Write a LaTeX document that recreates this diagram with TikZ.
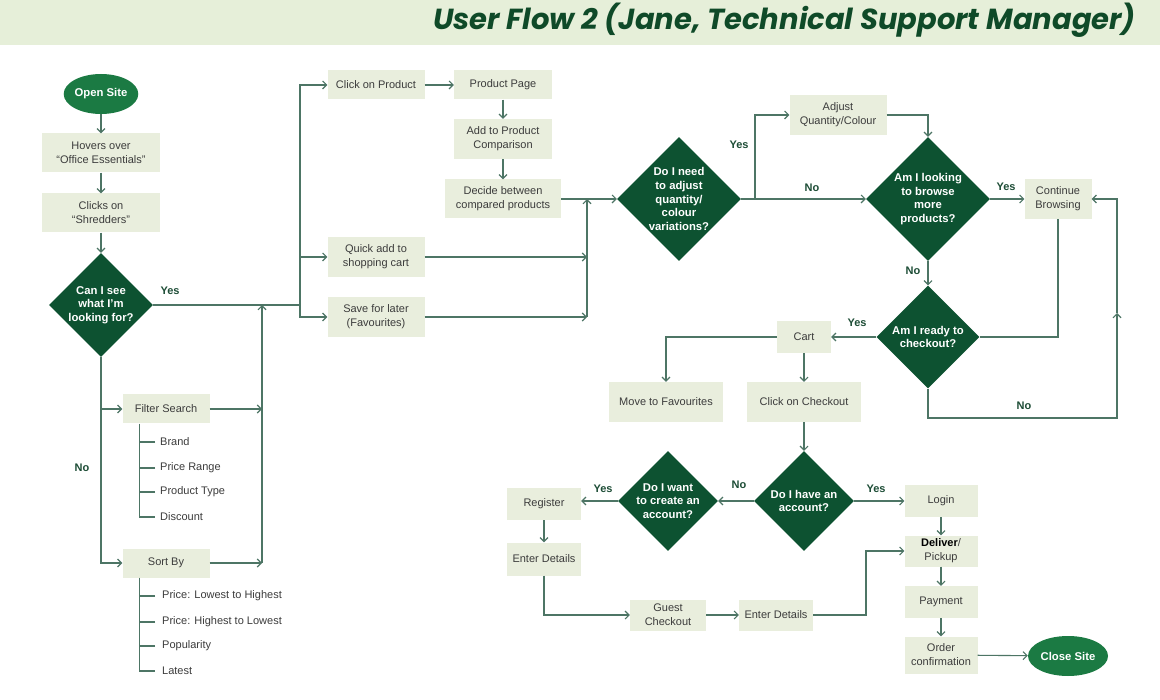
\documentclass[tikz,border=0pt]{standalone}
\usepackage{fontspec}
\setmainfont{Liberation Sans}
\newfontfamily\titlefont{Poppins}
\usetikzlibrary{shapes.geometric,arrows.meta}
\definecolor{band}{HTML}{E6EFD9}
\definecolor{boxc}{HTML}{E9EEDD}
\definecolor{diac}{HTML}{0D5231}
\definecolor{ovalc}{HTML}{1B7A43}
\definecolor{linec}{HTML}{4D7565}
\definecolor{txt}{HTML}{3C3C3C}
\definecolor{lab}{HTML}{1D4D36}
\definecolor{titc}{HTML}{0F4A28}
\begin{document}
\begin{tikzpicture}[x=1pt,y=-1pt,
  box/.style={rectangle, fill=boxc, inner sep=0pt, align=center, text=txt, font=\fontsize{11}{14}\selectfont},
  dmd/.style={diamond, fill=diac, inner sep=0pt, minimum width=#1, minimum height=#1},
  dtext/.style={text=white, font=\bfseries\fontsize{11.3}{13.6}\selectfont, align=center},
  oval/.style={ellipse, fill=ovalc, inner sep=0pt, text=white, font=\bfseries\fontsize{11.3}{13}\selectfont},
  ln/.style={draw=linec, line width=1.1pt},
  arr/.style={ln, -{Straight Barb[length=4pt,width=8pt]}},
  yn/.style={text=lab, font=\bfseries\fontsize{11}{13}\selectfont},
  listitem/.style={anchor=west, inner xsep=5pt, inner ysep=0pt, text=txt, font=\fontsize{11}{13}\selectfont},
]
\fill[white] (0,0) rectangle (1160,700);
\fill[band] (0,0) rectangle (1160,45);
\node[anchor=east, text=titc, inner sep=0pt, font=\titlefont\bfseries\itshape\fontsize{29}{34}\selectfont] (title) at (1136,20) {User Flow 2 (Jane, Technical Support Manager)};

% left column
\node[oval, minimum width=72, minimum height=40] (open) at (101,94) {Open Site};
\node[box, minimum width=118, minimum height=39] (hover) at (101,153) {Hovers over\\“Office Essentials”};
\node[box, minimum width=118, minimum height=39] (clicks) at (101,213) {Clicks on\\“Shredders”};
\node[dmd=104, label={[dtext]center:{Can I see\\what I’m\\looking for?}}] (d1) at (101,305) {};
\draw[arr] (open) -- (hover);
\draw[arr] (hover) -- (clicks);
\draw[arr] (clicks) -- (d1.north);

\node[box, minimum width=87, minimum height=29] (filter) at (166,409) {Filter Search};
\node[box, minimum width=87, minimum height=29] (sort) at (166,563) {Sort By};
\node[listitem] (brand) at (155,442) {Brand};
\node[listitem] (prange) at (155,468) {Price Range};
\node[listitem] (ptype) at (155,492) {Product Type};
\node[listitem] (disc) at (155,517) {Discount};
\coordinate (ftree) at ([xshift=17]filter.south west);
\draw[ln] (ftree) |- (disc.west);
\draw[ln] (brand.west) -- (brand.west -| ftree);
\draw[ln] (prange.west) -- (prange.west -| ftree);
\draw[ln] (ptype.west) -- (ptype.west -| ftree);
\node[listitem, inner xsep=7pt] (plh) at (155,596) {Price: Lowest to Highest};
\node[listitem, inner xsep=7pt] (phl) at (155,622) {Price: Highest to Lowest};
\node[listitem, inner xsep=7pt] (pop) at (155,646) {Popularity};
\node[listitem, inner xsep=7pt] (late) at (155,671) {Latest};
\coordinate (stree) at ([xshift=17]sort.south west);
\draw[ln] (stree) |- (late.west);
\draw[ln] (plh.west) -- (plh.west -| stree);
\draw[ln] (phl.west) -- (phl.west -| stree);
\draw[ln] (pop.west) -- (pop.west -| stree);

\draw[arr] (d1.south) |- (filter.west);
\draw[arr] (d1.south) |- (sort.west);
\node[yn] (no1) at (82,468) {No};
\node[yn] (yes1) at (170,291) {Yes};

% product column
\node[box, minimum width=97, minimum height=29] (cop) at (376,85) {Click on Product};
\node[box, minimum width=98, minimum height=29] (pp) at (503,85) {Product Page};
\node[box, minimum width=98, minimum height=40] (apc) at (503,139) {Add to Product\\Comparison};
\node[box, minimum width=116, minimum height=39] (dec) at (503,199) {Decide between\\compared products};
\node[box, minimum width=97, minimum height=40] (qa) at (376,257) {Quick add to\\shopping cart};
\node[box, minimum width=97, minimum height=40] (sfl) at (376,317) {Save for later\\(Favourites)};

\coordinate (j1) at (300,305);
\draw[ln] (d1.east) -- (j1);
\draw[arr] (j1) |- (cop.west);
\draw[arr] (j1) |- (qa.west);
\draw[arr] (j1) |- (sfl.west);

\coordinate (m1top) at (262,305);
\draw[arr] (filter.east) -- (filter.east -| m1top);
\draw[arr] (sort.east) -- (sort.east -| m1top);
\draw[arr] (sort.east -| m1top) -- (m1top);

\draw[arr] (cop) -- (pp);
\draw[arr] (pp) -- (apc);
\draw[arr] (apc) -- (dec);

% decisions
\node[dmd=124, label={[dtext]center:{Do I need\\to adjust\\quantity/\\colour\\variations?}}] (d2) at (679,199) {};
\draw[arr] (dec.east) -- (d2.west);
\coordinate (m2top) at (587,199);
\draw[arr] (qa.east) -- (qa.east -| m2top);
\draw[arr] (sfl.east) -- (sfl.east -| m2top);
\draw[arr] (sfl.east -| m2top) -- (m2top);

\node[dmd=124, label={[dtext]center:{Am I looking\\to browse\\more\\products?}}] (d3) at (928,199) {};
\draw[arr] (d2.east) -- (d3.west);
\node[yn] at (812,188) {No};
\node[box, minimum width=97, minimum height=40] (adj) at (838,115) {Adjust\\Quantity/Colour};
\coordinate (j2) at (755,199);
\draw[arr] (j2) |- (adj.west);
\node[yn] at (739,145) {Yes};
\draw[arr] (adj.east) -| (d3.north);

\node[box, minimum width=67, minimum height=40] (cb) at (1058,199) {Continue\\Browsing};
\draw[arr] (d3.east) -- (cb.west);
\node[yn] at (1006,187) {Yes};

\node[dmd=103, label={[dtext]center:{Am I ready to\\checkout?}}] (d4) at (928,337) {};
\draw[arr] (d3.south) -- (d4.north);
\node[yn] at (913,271) {No};
\draw[ln] (cb.south) |- (d4.east);

\node[box, minimum width=54, minimum height=32] (cart) at (804,337) {Cart};
\draw[arr] (d4.west) -- (cart.east);
\node[yn] at (857,323) {Yes};
\node[box, minimum width=114, minimum height=40] (mtf) at (666,402) {Move to Favourites};
\node[box, minimum width=114, minimum height=40] (coc) at (804,402) {Click on Checkout};
\draw[arr] (cart.west) -| (mtf.north);
\draw[arr] (cart) -- (coc);

\coordinate (loopc) at (1117,418);
\coordinate (loopm) at (1117,313);
\draw[arr] (d4.south) |- (loopc) -- (loopm);
\draw[arr] (loopm) |- (cb.east);
\node[yn] at (1024,406) {No};

% checkout
\node[dmd=100, label={[dtext]center:{Do I have an\\account?}}] (d5) at (804,501) {};
\draw[arr] (coc) -- (d5.north);
\node[box, minimum width=73, minimum height=32] (login) at (941,501) {Login};
\draw[arr] (d5.east) -- (login.west);
\node[yn] at (876,489) {Yes};
\node[dmd=100, label={[dtext]center:{Do I want\\to create an\\account?}}] (d6) at (668,501) {};
\draw[arr] (d5.west) -- (d6.east);
\node[yn] at (739,485) {No};
\node[box, minimum width=74, minimum height=32] (reg) at (544,504) {Register};
\draw[arr] (d6.west) -- (d6.west -| reg.east);
\node[yn] at (603,489) {Yes};
\node[box, minimum width=74, minimum height=33] (ed1) at (544,559) {Enter Details};
\draw[arr] (reg) -- (ed1);
\node[box, minimum width=76, minimum height=31] (gc) at (668,615) {Guest\\Checkout};
\draw[arr] (ed1.south) |- (gc.west);
\node[box, minimum width=74, minimum height=31] (ed2) at (776,615) {Enter Details};
\draw[arr] (gc) -- (ed2);
\node[box, minimum width=73, minimum height=31] (dp) at (941,551) {\textcolor{black}{\textbf{Deliver}}/\\Pickup};
\coordinate (j3) at (866,551);
\draw[arr] (ed2.east) -| (j3) -- (dp.west);
\draw[arr] (login) -- (dp);
\node[box, minimum width=73, minimum height=32] (pay) at (941,602) {Payment};
\draw[arr] (dp) -- (pay);
\node[box, minimum width=73, minimum height=37] (oc) at (941,655) {Order\\confirmation};
\draw[arr] (pay) -- (oc);
\node[oval, minimum width=80, minimum height=40] (close) at (1068,656) {Close Site};
\draw[arr] (oc) -- (close);
\end{tikzpicture}
\end{document}
